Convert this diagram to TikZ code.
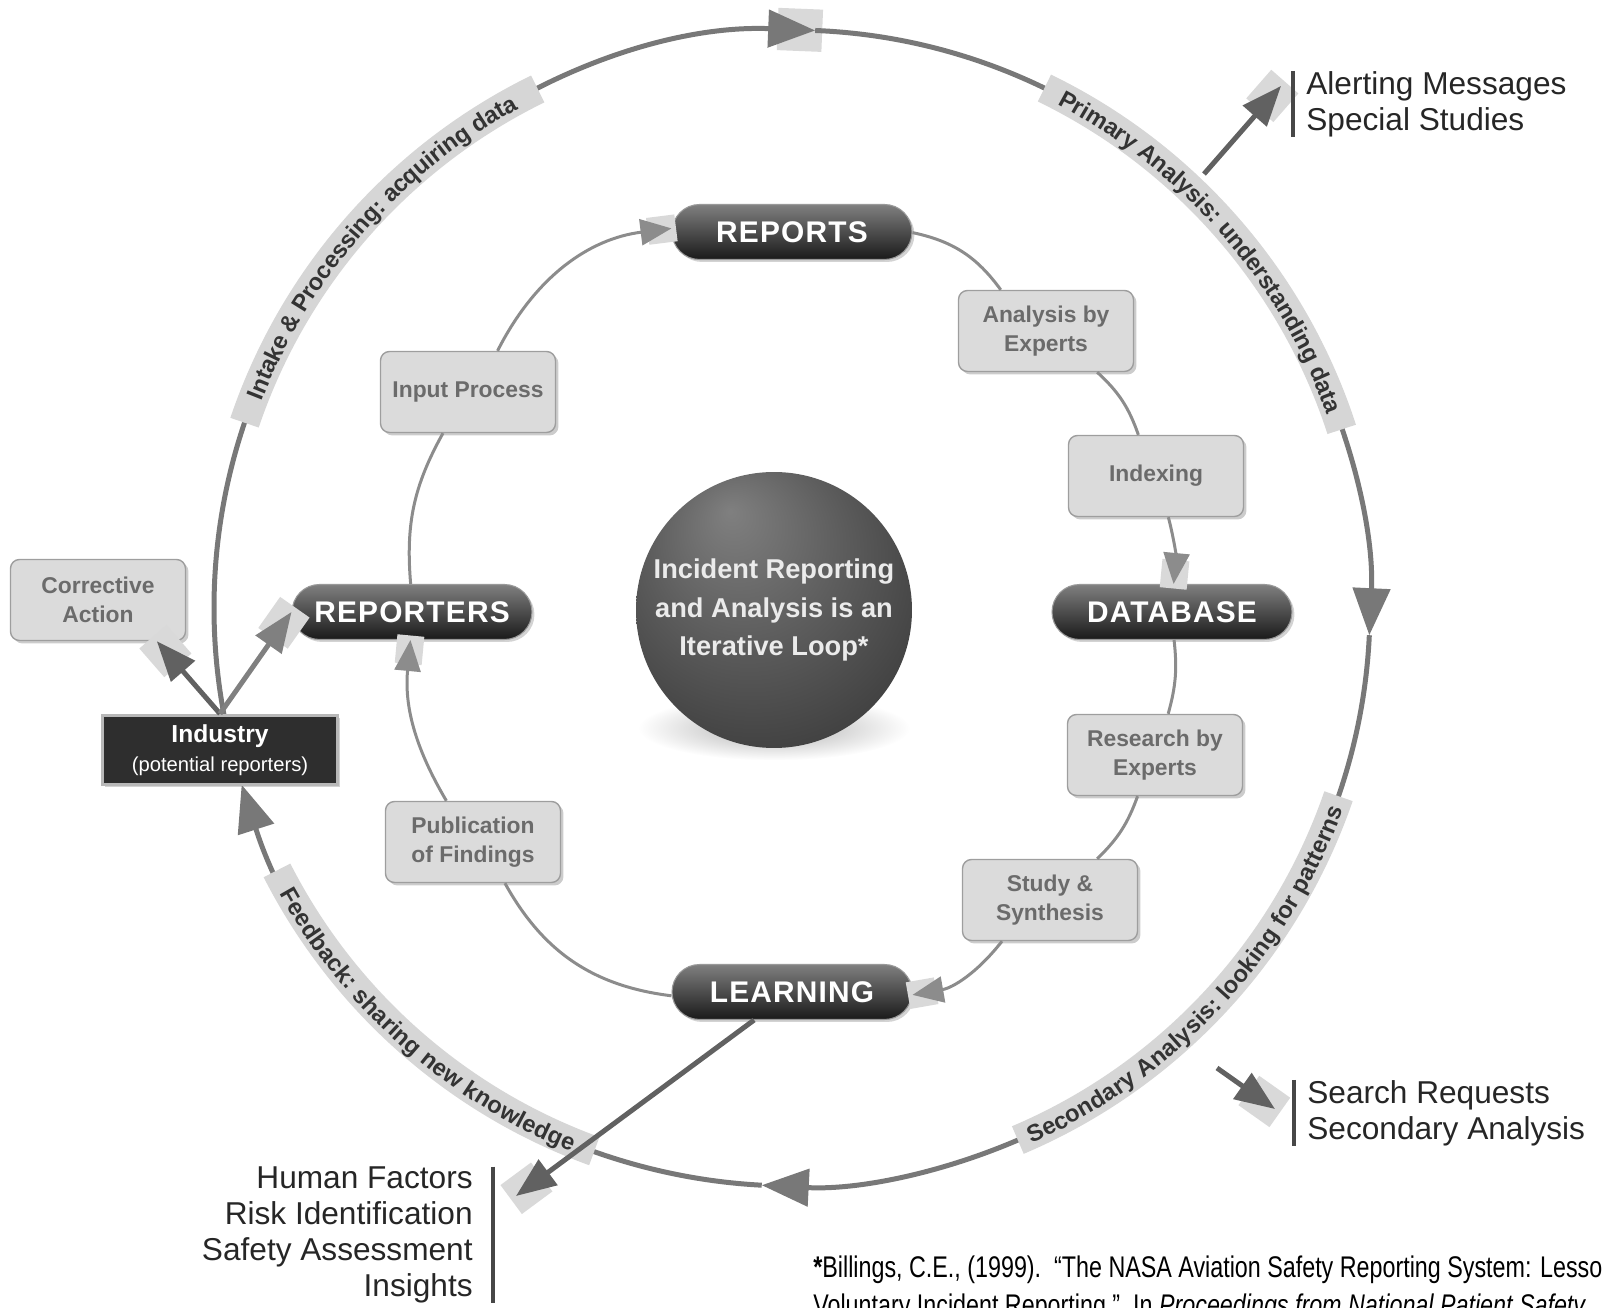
\documentclass[tikz,border=0pt]{standalone}
\usepackage{fontspec}
\setmainfont{Liberation Sans}
\newfontfamily\pillfont[LetterSpace=4]{Liberation Sans}
\newfontfamily\notefont[FakeStretch=0.78]{Liberation Sans}
\usetikzlibrary{arrows.meta,decorations.text,decorations.markings,shadows,shapes.geometric}

\definecolor{ringgray}{gray}{0.47}
\definecolor{bandgray}{gray}{0.84}
\definecolor{bandtext}{gray}{0.2}
\definecolor{boxfill}{gray}{0.86}
\definecolor{boxtext}{gray}{0.42}
\definecolor{sqgray}{gray}{0.85}
\definecolor{listtext}{gray}{0.15}

\newcommand{\bandstyle}{\fontsize{13.5}{16}\selectfont\bfseries\color{bandtext}}

\pgfdeclareradialshading{orb}{\pgfpoint{-8bp}{18bp}}{color(0bp)=(black!50); color(18bp)=(black!64); color(36bp)=(black!77); color(50bp)=(black!86)}

\tikzset{
  ring/.style={draw=ringgray, line width=0.1cm},
  ringtip/.style={-{Triangle[length=0.94cm,width=0.74cm]}},
  band/.style={draw=bandgray, line width=0.6cm},
  bandlabel/.style={decorate, decoration={text along path, text align=center, raise=-5pt, text={|\bandstyle|#1}}},
  sq/.style={preaction={decorate, decoration={markings, mark=at position 1 with {\fill[sqgray] (-0.8*#1,-0.45*#1) rectangle (0.15*#1,0.45*#1);}}}},
  pill/.style={rectangle, rounded corners=0.55cm, minimum width=4.8cm, minimum height=1.1cm,
    top color=black!50, bottom color=black!90, draw=black!40, line width=0.6pt, text=white,
    font=\pillfont\bfseries\fontsize{17}{20}\selectfont,
    drop shadow={opacity=0.35, shadow xshift=0.05cm, shadow yshift=-0.05cm}},
  taskbox/.style={rectangle, rounded corners=0.18cm, minimum width=3.5cm, minimum height=1.62cm,
    fill=boxfill, draw=black!38, line width=0.8pt, text=boxtext, align=center,
    font=\bfseries\fontsize{13}{16.3}\selectfont,
    drop shadow={opacity=0.4, shadow xshift=0.06cm, shadow yshift=-0.06cm}},
  orgbox/.style={rectangle, minimum width=4.7cm, minimum height=1.38cm, fill=black!82,
    draw=black!28, line width=2pt, text=white, align=center, font=\fontsize{14}{16.3}\selectfont,
    drop shadow={opacity=0.35, shadow xshift=0.05cm, shadow yshift=-0.05cm}},
  listnote/.style={font=\fontsize{18}{20.4}\selectfont, text=listtext, inner ysep=0pt},
  listbar/.style={draw=black!72, line width=0.09cm},
  innerline/.style={draw=black!45, line width=0.06cm},
  innerarrow/.style={innerline, -{Triangle[length=0.62cm,width=0.52cm]}},
  outarrow/.style={draw=black!62, line width=0.1cm, -{Triangle[length=0.8cm,width=0.62cm]}}
}

\begin{document}
\begin{tikzpicture}[x=0.02cm, y=0.02cm]
    \useasboundingbox (-792,-700) rectangle (811,608);

    % outer loop
    \draw[ring, ringtip, sq=47] (190.7:578) arc[start angle=190.7, end angle=87.7, radius=578];
    \draw[ring, ringtip, sq=47] (87.7:578) arc[start angle=87.7, end angle=-2.7, radius=578];
    \draw[ring, ringtip, sq=47] (-2.7:578) arc[start angle=-2.7, end angle=-93, radius=578];
    \draw[ring, ringtip, sq=47] (-93:578) arc[start angle=-93, end angle=-162.2, radius=578];

    \coordinate (alfrom) at (412,434);
    \coordinate (alto) at (489,522);
    \coordinate (srfrom) at (425,-460);
    \coordinate (srto) at (483,-501);
    \draw[outarrow, sq=40] (alfrom) -- (alto);
    \draw[outarrow, sq=40] (srfrom) -- (srto);

    % phase bands
    \draw[band] (161.3:578) arc[start angle=161.3, end angle=116.1, radius=578];
    \path[bandlabel={Intake {\&} Processing: acquiring data}] (161.3:578) arc[start angle=161.3, end angle=116.1, radius=578];
    \draw[band] (64.1:578) arc[start angle=64.1, end angle=18, radius=578];
    \path[bandlabel={Primary Analysis: understanding data}] (64.1:578) arc[start angle=64.1, end angle=18, radius=578];
    \draw[band] (-67:578) arc[start angle=-67, end angle=-19, radius=578];
    \path[bandlabel={Secondary Analysis: looking for patterns}] (-67:578) arc[start angle=-67, end angle=-19, radius=578];
    \draw[band] (207:578) arc[start angle=207, end angle=250, radius=578];
    \path[bandlabel={Feedback: sharing new knowledge}] (207:578) arc[start angle=207, end angle=250, radius=578];

    % centre
    \node[ellipse, minimum width=5.44cm, minimum height=1.3cm, inner color=black!32, outer color=white] (floor) at (-18,-120) {};
    \node[circle, minimum size=5.32cm, shade, shading=orb, text=white!92!black, align=center,
      font=\bfseries\fontsize{15.5}{22}\selectfont] (core) at (-18,-2) {Incident Reporting\\and Analysis is an\\Iterative Loop*};

    % inner loop
    \node[pill] (reports) at (0,376) {REPORTS};
    \node[pill] (reporters) at (-380,-4) {REPORTERS};
    \node[pill] (database) at (380,-4) {DATABASE};
    \node[pill] (learning) at (0,-384) {LEARNING};
    \node[taskbox] (analysis) at (254,277) {Analysis by\\Experts};
    \node[taskbox] (indexing) at (364,132) {Indexing};
    \node[taskbox] (research) at (363,-147) {Research by\\Experts};
    \node[taskbox] (study) at (258,-292) {Study \&\\Synthesis};
    \node[taskbox] (publication) at (-319,-234) {Publication\\of Findings};
    \node[taskbox] (input) at (-324,216) {Input Process};
    \node[taskbox] (corrective) at (-694,8) {Corrective\\Action};
    \node[orgbox] (industry) at (-572,-142) {{\bfseries Industry}\\{\fontsize{11.5}{13}\selectfont(potential reporters)}};

    \draw[innerline] (reports) to[bend left=21] (analysis);
    \draw[innerline] (analysis) to[bend left=14] (indexing);
    \draw[innerarrow, sq=30] (indexing) to[bend left=10] (database);
    \draw[innerline] (database) to[bend left=11] (research);
    \draw[innerline] (research) to[bend left=13] (study);
    \draw[innerarrow, sq=30] (study) to[bend left=21] (learning);
    \draw[innerline] (learning) to[bend left=27] (publication);
    \draw[innerarrow, sq=30] (publication) to[bend left=18] (reporters);
    \draw[innerline] (reporters) to[bend left=17] (input);
    \draw[innerarrow, sq=30] (input) to[bend left=28] (reports);

    \draw[outarrow, sq=40] (industry.north) -- (corrective.-35);
    \draw[outarrow, draw=black!50, sq=40] (industry.north) -- (reporters.west);

    \coordinate (hfto) at (-276,-588);
    \draw[outarrow, sq=40] (learning) -- (hfto);

    % outputs
    \node[listnote, anchor=west, align=left, inner xsep=0.26cm] (alerting) at (501,504) {Alerting Messages\\Special Studies};
    \draw[listbar] (alerting.north west) -- (alerting.south west);
    \node[listnote, anchor=west, align=left, inner xsep=0.26cm] (searchreq) at (502,-505) {Search Requests\\Secondary Analysis};
    \draw[listbar] (searchreq.north west) -- (searchreq.south west);
    \node[listnote, anchor=east, align=right, inner xsep=0.4cm] (findings) at (-299,-627) {Human Factors\\Risk Identification\\Safety Assessment\\Insights};
    \draw[listbar] (findings.north east) -- (findings.south east);

    \node[anchor=north west, inner sep=0pt, align=left, text=black,
      font=\notefont\fontsize{17}{21.6}\selectfont] (billings) at (21,-648)
      {\textbf{*}Billings, C.E., (1999).\ \ “The NASA Aviation Safety Reporting System: Lessons\\Voluntary Incident Reporting.”\ \ In \textit{Proceedings from National Patient Safety}};
\end{tikzpicture}
\end{document}
